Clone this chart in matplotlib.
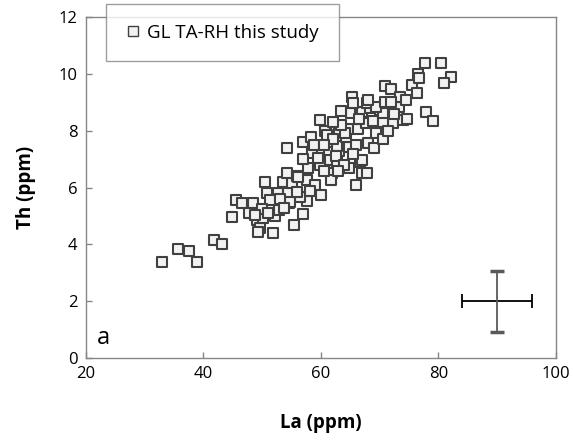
import matplotlib
matplotlib.use("Agg")
import matplotlib.pyplot as plt
from matplotlib.lines import Line2D

plt.rcParams['font.family'] = ['Open Sans', 'DejaVu Sans']

la = [33.0, 35.7, 37.5, 38.9, 41.8, 43.2, 44.8, 45.6, 46.6, 48.4, 47.7, 49.1, 49.6, 49.3,
      51.8, 50.5, 50.8, 52.2, 50.1, 52.7, 54.4, 54.6, 52.9, 53.5, 55.0, 54.2, 55.9, 57.6,
      57.6, 56.9, 55.4, 56.4, 54.7, 51.3, 53.0, 50.0, 48.8, 51.0, 53.8, 55.9,
      54.2, 56.9, 58.3, 59.8, 60.7, 62.6, 63.1, 61.0, 58.5, 60.2, 61.4, 63.1, 62.7, 64.8,
      61.5, 62.7, 59.8, 57.8, 56.1, 61.9, 61.7, 64.8, 66.6, 67.0, 67.8, 66.0, 67.0, 66.0,
      68.0, 64.3, 64.6, 66.3, 67.7, 69.4, 70.0, 72.3, 68.9, 70.6, 74.0, 74.6, 64.1, 65.1,
      66.6, 67.0, 68.3, 70.0, 70.6, 71.0, 65.3, 65.4, 67.8, 69.4, 70.9, 73.3, 70.9, 71.9,
      73.4, 75.5, 76.3, 76.5, 76.7, 77.7, 80.4, 82.1, 80.9, 77.9, 79.1,
      57.0, 58.8, 59.5, 60.5, 62.0, 63.5, 59.0, 58.2, 60.0, 62.5, 65.5, 64.0, 63.0, 69.0,
      70.5, 71.5, 72.5, 68.0, 72.0, 74.5, 66.5, 62.0, 63.5, 60.5]
th = [3.40, 3.85, 3.77, 3.38, 4.15, 4.00, 4.96, 5.55, 5.45, 5.45, 5.10, 4.86, 4.57, 4.44,
      4.40, 6.20, 5.80, 5.00, 4.93, 5.80, 5.80, 5.46, 5.21, 6.20, 6.16, 6.50, 6.40, 6.27,
      5.53, 5.07, 4.68, 5.67, 5.50, 5.55, 5.60, 5.25, 5.05, 5.10, 5.30, 5.85,
      7.39, 7.60, 7.78, 8.38, 8.00, 8.03, 7.96, 7.85, 7.22, 7.18, 7.25, 7.29, 7.46, 7.43,
      6.97, 6.90, 6.80, 6.69, 6.37, 6.50, 6.27, 6.69, 6.90, 6.50, 6.51, 6.10, 6.97, 7.50,
      7.57, 7.78, 8.06, 8.06, 8.27, 7.92, 8.30, 8.27, 8.35, 8.31, 8.38, 8.42, 7.92, 8.63,
      8.66, 8.66, 8.80, 8.73, 8.63, 8.98, 9.19, 8.98, 8.98, 8.84, 9.01, 8.84, 9.58, 9.47,
      9.19, 9.60, 9.33, 10.00, 9.86, 10.39, 10.39, 9.89, 9.68, 8.66, 8.35,
      7.00, 7.50, 7.05, 6.60, 7.70, 8.20, 6.10, 5.90, 5.75, 7.10, 7.20, 6.80, 6.60, 7.40,
      7.70, 8.00, 8.60, 9.10, 9.00, 9.10, 8.40, 8.30, 8.70, 7.50]

err_x, err_y = 90, 2.0
err_la, err_th = 6.0, 1.07

x_ticks = [20, 40, 60, 80, 100]
y_ticks = [0, 2, 4, 6, 8, 10, 12]

fig = plt.figure(figsize=(5.73, 4.40), dpi=100)
ax = fig.add_axes([0.150, 0.186, 0.820, 0.775])

ax.scatter(la, th, marker='s', s=58, facecolor='#f2f2f2', edgecolor='#404040',
           linewidths=1.5, zorder=3)

ax.errorbar([err_x], [err_y], xerr=[err_la], fmt='none', ecolor='#000000',
            elinewidth=1.3, capsize=5, capthick=1.3, zorder=4)
ax.errorbar([err_x], [err_y], yerr=[err_th], fmt='none', ecolor='#595959',
            elinewidth=1.3, capsize=5, capthick=2.5, zorder=4)

ax.set_xlim(20, 100)
ax.set_ylim(0, 12)
ax.set_xticks(x_ticks)
ax.set_yticks(y_ticks)
ax.tick_params(direction='in', length=4.5, width=1, color='#868686',
               labelsize=12, labelcolor='black', pad=6)
for sp in ax.spines.values():
    sp.set_color('#868686')
    sp.set_linewidth(1)

ax.set_xlabel('La (ppm)', fontsize=13.5, fontweight='bold', labelpad=22)
ax.set_ylabel('Th (ppm)', fontsize=13.5, fontweight='bold', labelpad=16)

ax.text(21.8, 0.3, 'a', fontsize=17, ha='left', va='bottom')

handle = Line2D([], [], marker='s', linestyle='none', markersize=6.5,
                markerfacecolor='#f2f2f2', markeredgecolor='#404040', markeredgewidth=1)
leg = fig.legend([handle], ['GL TA-RH this study'], loc='upper left',
                 bbox_to_anchor=(0.185, 0.991), frameon=True, fancybox=False,
                 fontsize=13.5, handletextpad=0.35, handlelength=0.8,
                 borderpad=1.05, borderaxespad=0)
leg.get_frame().set_edgecolor('#868686')
leg.get_frame().set_linewidth(1)

fig.savefig('out.png', dpi=100)
